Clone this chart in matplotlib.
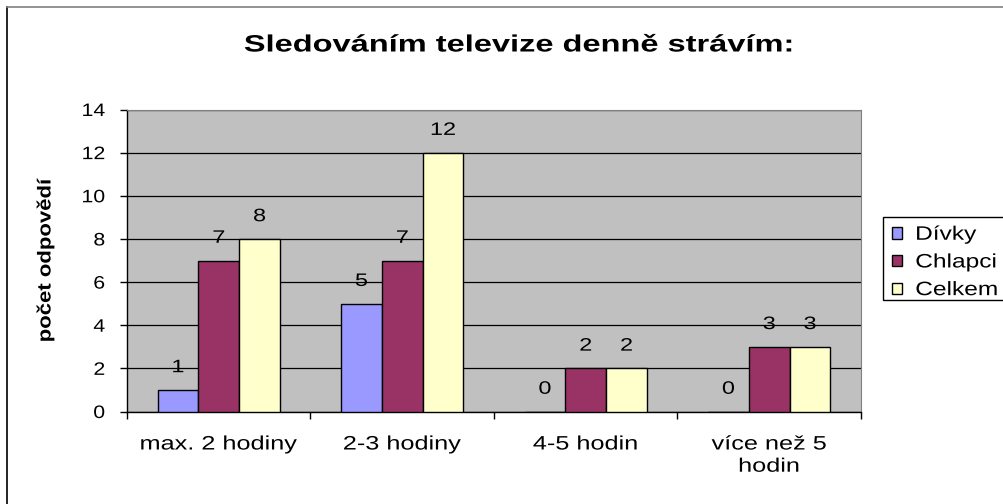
import matplotlib
matplotlib.use("Agg")
import matplotlib.pyplot as plt
import numpy as np
from matplotlib.lines import Line2D
from matplotlib.patches import Rectangle
from matplotlib.patheffects import AbstractPathEffect
from matplotlib.transforms import Affine2D

categories = ["max. 2 hodiny", "2-3 hodiny", "4-5 hodin", "více než 5\nhodin"]
series_names = ["Dívky", "Chlapci", "Celkem"]
divky = [1, 5, 0, 0]
chlapci = [7, 7, 2, 3]
celkem = [8, 12, 2, 3]
colors = ["#9999FF", "#993366", "#FFFFCC"]
title = "Sledováním televize denně strávím:"
ylabel = "počet odpovědí"

plt.rcParams['font.family'] = ['Liberation Sans', 'DejaVu Sans']


class Stretch(AbstractPathEffect):
    """Stretch text glyphs along one display axis (the reference text is widened)."""

    def __init__(self, s, anchor="center", vertical=False):
        super().__init__()
        self.s = s
        self.anchor = anchor
        self.vertical = vertical

    def draw_path(self, renderer, gc, tpath, affine, rgbFace=None):
        ext = tpath.get_extents(affine)
        if self.vertical:
            c = 0.5 * (ext.y0 + ext.y1)
            aff = affine + Affine2D().translate(0, -c).scale(1, self.s).translate(0, c)
        else:
            if self.anchor == "left":
                c = ext.x0
            elif self.anchor == "right":
                c = ext.x1
            else:
                c = 0.5 * (ext.x0 + ext.x1)
            aff = affine + Affine2D().translate(-c, 0).scale(self.s, 1).translate(c, 0)
        renderer.draw_path(gc, tpath, aff, rgbFace)


W, H = 1004, 504
fig = plt.figure(figsize=(W / 100, H / 100), dpi=100)
fig.patch.set_facecolor("white")

# outer chart border (left/top visible, extends beyond canvas)
fig.add_artist(Line2D([7.5 / W, 7.5 / W], [1 - 6.5 / H, -0.1], transform=fig.transFigure,
                      color="black", lw=1.2))
fig.add_artist(Line2D([7.5 / W, 1.1], [1 - 6.5 / H, 1 - 6.5 / H], transform=fig.transFigure,
                      color="#808080", lw=1.2))

left, right, top, bottom = 127, 861, 109.5, 411.5
ax = fig.add_axes([left / W, 1 - bottom / H, (right - left) / W, (bottom - top) / H])
ax.set_facecolor("#C0C0C0")

x = np.arange(len(categories))
bw = 1 / 4.5
data = [divky, chlapci, celkem]
for i, (vals, c, name) in enumerate(zip(data, colors, series_names)):
    xs = x + (i - 1) * bw
    ax.bar(xs, vals, width=bw, color=c, edgecolor="black", linewidth=1.0, label=name, zorder=3)
    for xi, v in zip(xs, vals):
        t = ax.annotate(str(v), (xi, v), xytext=(0, 16), textcoords="offset points",
                        ha="center", va="center", fontsize=13, zorder=4)
        t.set_path_effects([Stretch(1.3, "center")])

ax.set_xlim(-0.5, 3.5)
ax.set_ylim(0, 14)
ax.set_yticks(range(0, 15, 2))
ax.yaxis.grid(True, color="black", lw=0.9, zorder=1)
ax.set_axisbelow(True)
ax.tick_params(axis="y", direction="out", length=5, width=1, labelsize=13, pad=10.8)
ax.set_xticks(x)
ax.set_xticklabels(categories, fontsize=14, linespacing=1.4)
ax.set_xticks(np.arange(-0.5, 4.0, 1.0), minor=True)
ax.tick_params(axis="x", which="major", length=0, pad=18)
ax.tick_params(axis="x", which="minor", direction="out", length=5, width=1)
for s in ["top", "right"]:
    ax.spines[s].set_color("#808080")
for s in ["left", "bottom"]:
    ax.spines[s].set_color("black")
    ax.spines[s].set_linewidth(1.0)

for lab in ax.get_yticklabels():
    lab.set_path_effects([Stretch(1.18, "right")])
for lab in ax.get_xticklabels():
    lab.set_path_effects([Stretch(1.3, "center")])

ax.set_ylabel(ylabel, fontsize=13.5, fontweight="bold")
ax.yaxis.set_label_coords((46 - left) / (right - left), 0.5)
ax.yaxis.label.set_va("center")
ax.yaxis.label.set_path_effects([Stretch(1.18, vertical=True)])

tt = fig.text(519 / W, 1 - 45 / H, title, ha="center", va="center", fontsize=17, fontweight="bold")
tt.set_path_effects([Stretch(1.38, "center")])

# legend frame extends past the right edge of the canvas, as in the reference
leg_top, leg_bot = 217, 300
fig.add_artist(Rectangle((883.5 / W, 1 - leg_bot / H), 200 / W, (leg_bot - leg_top) / H,
                         transform=fig.transFigure, facecolor="white", edgecolor="black",
                         lw=1.0, zorder=2))
leg = fig.legend(loc="upper left", bbox_to_anchor=(883 / W, 1 - (leg_top + 1) / H), fontsize=14,
                 frameon=False, borderpad=0.45,
                 handlelength=0.52, handleheight=0.52, handletextpad=0.7, labelspacing=0.55,
                 borderaxespad=0)
leg.set_zorder(3)
for t in leg.get_texts():
    t.set_path_effects([Stretch(1.26, "left")])

fig.savefig("out.png", dpi=100, facecolor="white")
